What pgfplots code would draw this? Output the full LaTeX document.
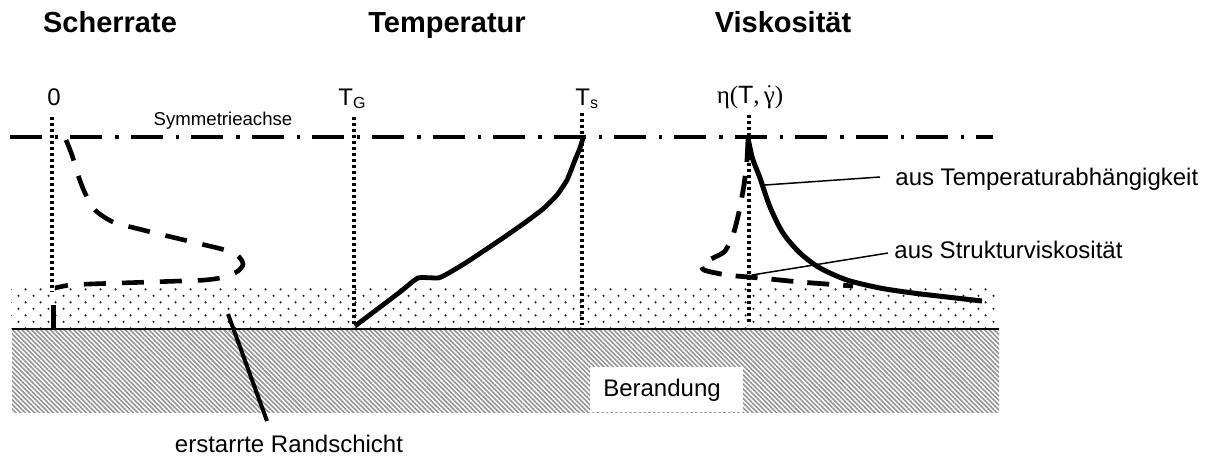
\documentclass[border=0pt]{standalone}
\usepackage{pgfplots}
\pgfplotsset{compat=1.18}
\usepackage{fontspec}
\setmainfont{Liberation Sans}
\newfontfamily\grk{Liberation Serif}
\usetikzlibrary{patterns,patterns.meta}
\pgfdeclarepatternformonly{stipple}{\pgfpointorigin}{\pgfpoint{7.5pt}{6.7pt}}{\pgfpoint{7.5pt}{6.7pt}}{%
 \pgfpathcircle{\pgfpoint{1.875pt}{1.675pt}}{0.65pt}%
 \pgfpathcircle{\pgfpoint{5.625pt}{5.025pt}}{0.65pt}%
 \pgfusepath{fill}}
\begin{document}
\begin{tikzpicture}
\begin{axis}[scale only axis, width=605pt, height=229pt,
  xmin=0, xmax=1210, ymin=0, ymax=458, y dir=reverse,
  hide axis, clip=false]
% background / bounding box
\addplot[draw=none, fill=white] coordinates {(0,0)(1210,0)(1210,458)(0,458)} -- cycle;
% erstarrte Randschicht (stipple)
\addplot[draw=none, pattern=stipple, pattern color=black!85] coordinates {(11,288)(999,288)(999,329)(11,329)} -- cycle;
% Berandung (hatch)
\addplot[draw=none, pattern={Lines[angle=-45,distance=1.66pt,line width=0.8pt]}, pattern color=black!42] coordinates {(12,329)(999,329)(999,412)(12,412)} -- cycle;
\addplot[draw=none, fill=white] coordinates {(590,367)(743,367)(743,412)(590,412)} -- cycle;
\addplot[black, line width=0.9pt] coordinates {(12,329)(999,329)};
% vertical dotted reference lines
\addplot[black, line width=2pt, dash pattern=on 1.5pt off 1.5pt] coordinates {(52,117)(52,292)};
\addplot[black, line width=2.5pt] coordinates {(53,305)(53,328)};
\addplot[black, line width=2pt, dash pattern=on 1.5pt off 1.5pt] coordinates {(354,117)(354,327)};
\addplot[black, line width=2pt, dash pattern=on 1.5pt off 1.5pt] coordinates {(582,113)(582,325)};
\addplot[black, line width=2pt, dash pattern=on 1.5pt off 1.5pt] coordinates {(749,115)(749,325)};
% symmetry axis
\addplot[black, line width=2pt, dash pattern=on 16pt off 6.5pt on 1.7pt off 6pt] coordinates {(10,137)(993,137)};
% Scherrate
\addplot[black, line width=2.3pt, dash pattern=on 11pt off 8pt, smooth, tension=0.5] coordinates {
 (66,140) (72,155) (78,175) (85,193) (95,210) (113,222) (135,228) (155,233) (180,239)
 (205,245) (225,250) (238,256) (243,264) (238,271) (225,277) (205,280) (180,281)
 (150,282) (120,283) (90,284) (70,285) (55,288)};
% Temperatur
\addplot[black, line width=2.4pt, smooth, tension=0.3] coordinates {
 (355,326) (400,292) (418,278) (438,278) (447,274) (467,262) (500,240) (523,224)
 (543,209) (557,195) (567,180) (575,160) (580,148) (583,138)};
% Viskositaet aus Temperaturabhaengigkeit
\addplot[black, line width=2.5pt, smooth, tension=0.5] coordinates {
 (748,138) (750,148) (753,160) (760,178) (770,207) (783,233) (800,253) (820,268)
 (847,280) (880,288) (913,293) (947,297) (982,301)};
% Viskositaet aus Strukturviskositaet
\addplot[black, line width=2.4pt, dash pattern=on 11pt off 7pt, smooth, tension=0.4] coordinates {
 (748,140) (747,160) (744,185) (739,212) (733,235) (724,252) (703,263) (704,270)
 (727,275) (760,278) (800,282) (853,286)};
% leader lines
\addplot[black, line width=0.75pt] coordinates {(765,185)(880,177)};
\addplot[black, line width=0.75pt] coordinates {(752,275)(888,253)};
\addplot[black, line width=2pt] coordinates {(228,314)(267,421)};
% texts
\node[anchor=base, font=\fontsize{14.5}{16}\selectfont\bfseries] at (axis cs:110,33) {Scherrate};
\node[anchor=base, font=\fontsize{14.5}{16}\selectfont\bfseries] at (axis cs:447,33) {Temperatur};
\node[anchor=base, font=\fontsize{14.5}{16}\selectfont\bfseries] at (axis cs:783,33) {Viskosität};
\node[anchor=base, font=\fontsize{12}{14}\selectfont] at (axis cs:54,105) {0};
\node[anchor=base west, font=\fontsize{12}{14}\selectfont, inner sep=0pt] at (axis cs:338,105) {T\textsubscript{G}};
\node[anchor=base west, font=\fontsize{12}{14}\selectfont, inner sep=0pt] at (axis cs:575,105) {T\textsubscript{s}};
\node[anchor=base, font=\fontsize{12.5}{14}\selectfont, inner sep=1pt] at (axis cs:750,103) {{\grk η(}T{\grk ,\,}$\dot{\hbox{\grk γ}}${\grk )}};
\node[anchor=base, font=\fontsize{9.3}{11}\selectfont] at (axis cs:223,125) {Symmetrieachse};
\node[anchor=base west, font=\fontsize{12}{14}\selectfont, inner sep=0pt] at (axis cs:895,185) {aus Temperaturabhängigkeit};
\node[anchor=base west, font=\fontsize{12}{14}\selectfont, inner sep=0pt] at (axis cs:894,258) {aus Strukturviskosität};
\node[anchor=base, font=\fontsize{12}{14}\selectfont] at (axis cs:662,396) {Berandung};
\node[anchor=base, font=\fontsize{12}{14}\selectfont, inner sep=0pt] at (axis cs:289,452) {erstarrte Randschicht};
\end{axis}
\end{tikzpicture}
\end{document}
